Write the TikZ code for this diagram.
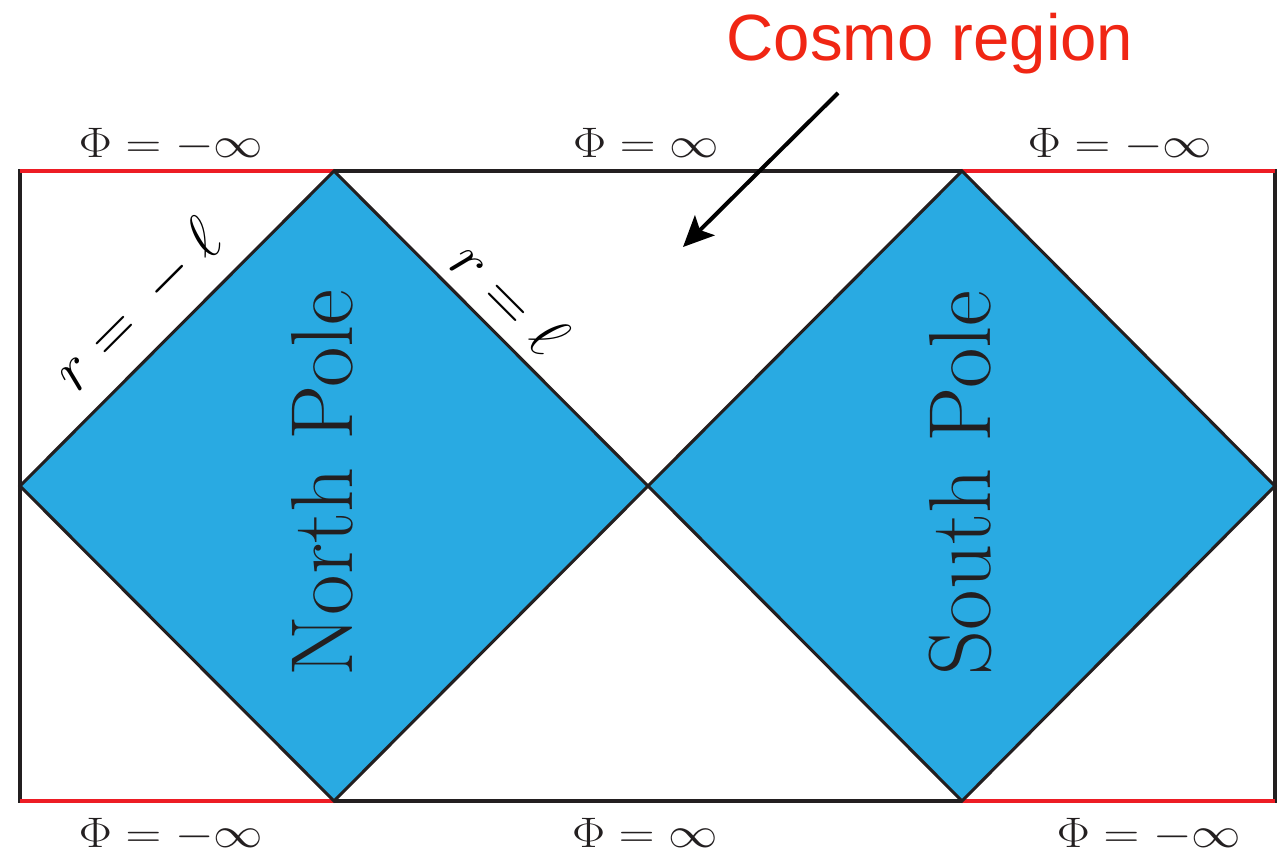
\RequirePackage{fix-cm}
\documentclass[tikz,border=0pt]{standalone}
\usepackage{fontspec}
\newfontfamily\cosmofont{Liberation Sans}
\usetikzlibrary{arrows.meta}
\definecolor{poleblue}{RGB}{41,170,226}
\definecolor{edgeblack}{RGB}{35,31,32}
\definecolor{infred}{RGB}{237,28,36}
\definecolor{cosmored}{RGB}{240,38,20}
\begin{document}
\begin{tikzpicture}[x=0.75pt,y=-0.75pt,
  edgeline/.style={draw=edgeblack,line width=2.3pt},
  redline/.style={draw=infred,line width=2.8pt},
  polefill/.style={fill=poleblue},
  philabel/.style={anchor=base,inner sep=0pt,text=edgeblack,font=\fontsize{32}{36}\selectfont},
  polelabel/.style={anchor=base,rotate=90,inner sep=0pt,text=edgeblack,font=\fontsize{66}{72}\selectfont},
  rlabel/.style={inner sep=0pt,font=\fontsize{47}{52}\selectfont},
  cosmolabel/.style={anchor=base,inner sep=0pt,text=cosmored,font=\cosmofont\fontsize{49}{56}\selectfont},
  pointer/.style={draw=black,line width=3pt,-{Stealth[length=23pt,width=21pt,inset=5pt]}}]
\useasboundingbox (0,0) rectangle (1279,857);
% vertices
\coordinate (TL) at (20,171);
\coordinate (TR) at (1275,171);
\coordinate (BL) at (20,801);
\coordinate (BR) at (1275,801);
\coordinate (NL) at (20,486);
\coordinate (NT) at (334,171);
\coordinate (NR) at (648,486);
\coordinate (NB) at (334,801);
\coordinate (ST) at (962,171);
\coordinate (SR) at (1275,486);
\coordinate (SB) at (962,801);
% diamonds
\fill[polefill] (NL) -- (NT) -- (NR) -- (NB) -- cycle;
\fill[polefill] (NR) -- (ST) -- (SR) -- (SB) -- cycle;
% frame
\draw[edgeline] (TL) -- (TR) -- (BR) -- (BL) -- cycle;
\draw[redline] (TL) -- (NT);
\draw[redline] (ST) -- (TR);
\draw[redline] (BL) -- (NB);
\draw[redline] (SB) -- (BR);
\draw[edgeline,line join=miter] (NL) -- (NT) -- (NR) -- (NB) -- cycle;
\draw[edgeline,line join=miter] (NR) -- (ST) -- (SR) -- (SB) -- cycle;
% labels
\node[philabel] (phiTL) at (171,157) {\scalebox{1.16}[1]{$\Phi = -\infty$}};
\node[philabel] (phiTM) at (646,157) {\scalebox{1.16}[1]{$\Phi = \infty$}};
\node[philabel] (phiTR) at (1120,157) {\scalebox{1.16}[1]{$\Phi = -\infty$}};
\node[philabel] (phiBL) at (171,847) {\scalebox{1.16}[1]{$\Phi = -\infty$}};
\node[philabel] (phiBM) at (645,847) {\scalebox{1.16}[1]{$\Phi = \infty$}};
\node[philabel] (phiBR) at (1149,847) {\scalebox{1.16}[1]{$\Phi = -\infty$}};
\node[polelabel] (north) at (352,483) {North Pole};
\node[polelabel] (south) at (990,483) {South Pole};
\node[rlabel,rotate=45] (rminus) at (138,306) {$r={}-\ell$};
\node[rlabel,rotate=-45] (rplus) at (510,298) {$r=\ell$};
\node[cosmolabel] (cosmo) at (930,60) {Cosmo region};
\coordinate (arrowstart) at (838,93);
\coordinate (arrowtip) at (683,247);
\draw[pointer] (arrowstart) -- (arrowtip);
\end{tikzpicture}
\end{document}
